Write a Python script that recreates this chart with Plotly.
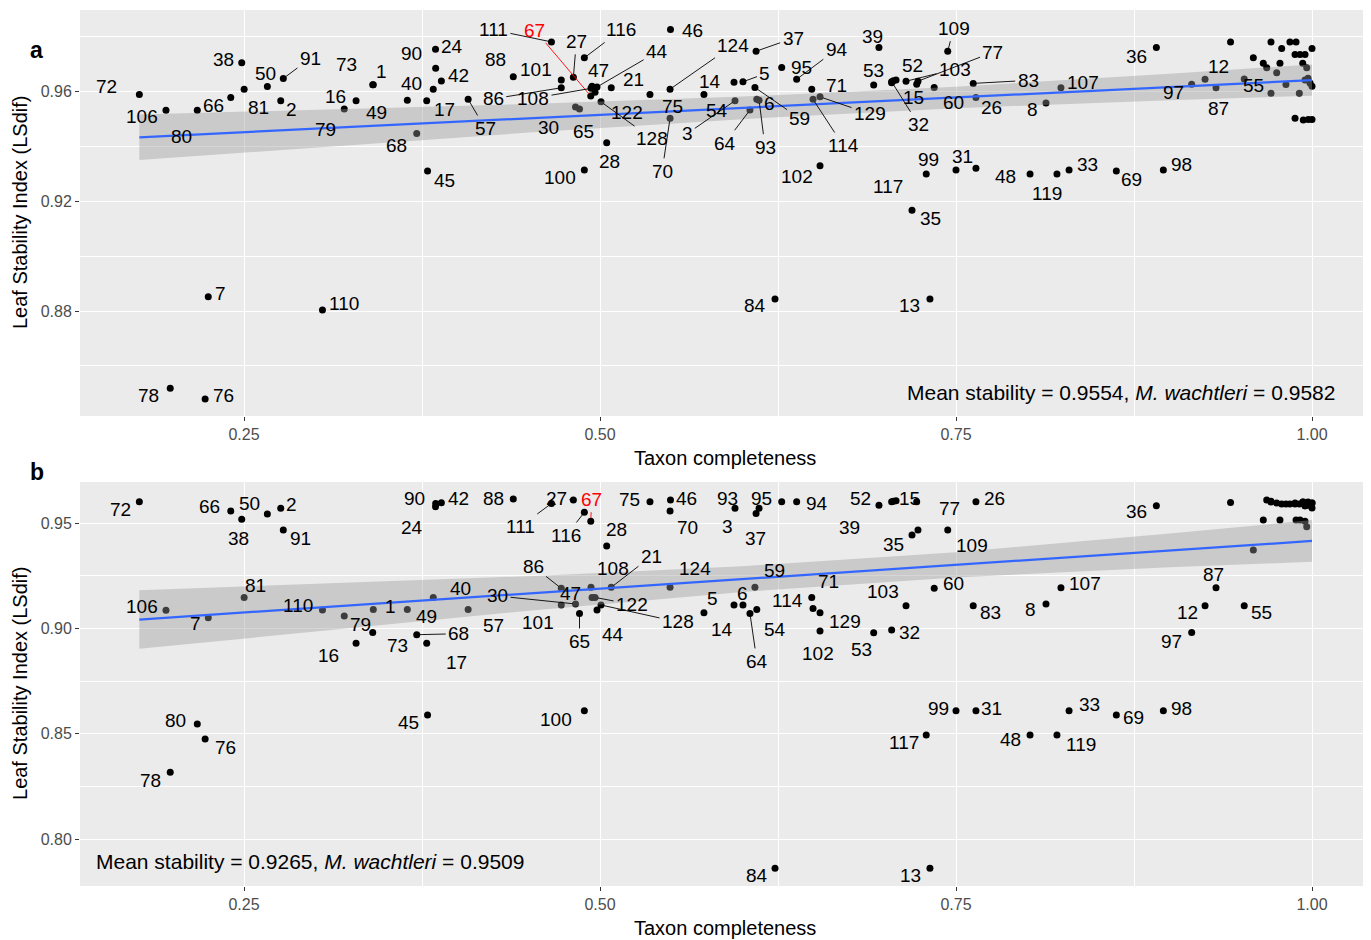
import plotly.graph_objects as go

# ---------------- data ----------------
taxa = ["72", "106", "80", "66", "38", "81", "50", "91", "2", "7", "110", "78", "76",
        "79", "16", "73", "1", "49", "68", "17", "45", "40", "90", "24", "42", "57",
        "88", "111", "101", "86", "27", "30", "65", "116", "100", "67", "108", "47",
        "122", "44", "128", "28", "21", "75", "46", "124", "70", "14", "54", "3", "5",
        "64", "59", "37", "6", "93", "84", "95", "94", "71", "114", "129", "102", "53",
        "39", "32", "52", "103", "35", "15", "77", "117", "13", "60", "109", "99", "83",
        "26", "31", "48", "8", "119", "107", "33", "69", "36", "98", "97", "12", "87", "55"]

completeness = [0.1765, 0.1952, 0.2172, 0.2407, 0.2484, 0.2501, 0.2664, 0.2776, 0.2758, 0.2249,
                0.3051, 0.1982, 0.2227, 0.3204, 0.3287, 0.3404, 0.3408, 0.3647, 0.3713, 0.3783,
                0.3789, 0.3829, 0.3846, 0.3845, 0.3886, 0.4074, 0.4391, 0.4659, 0.4728, 0.4728,
                0.4813, 0.4828, 0.4856, 0.4890, 0.4890, 0.4935, 0.4937, 0.4944, 0.4965, 0.4979,
                0.5007, 0.5047, 0.5079, 0.5351, 0.5495, 0.5492, 0.5492, 0.5730, 0.5941, 0.5948,
                0.6004, 0.6053, 0.6088, 0.6096, 0.6101, 0.6117, 0.6229, 0.6276, 0.6381, 0.6487,
                0.6496, 0.6545, 0.6545, 0.6922, 0.6959, 0.7048, 0.7079, 0.7149, 0.7191, 0.7224,
                0.7233, 0.7291, 0.7317, 0.7347, 0.7442, 0.7500, 0.7621, 0.7640, 0.7640, 0.8020,
                0.8132, 0.8209, 0.8237, 0.8294, 0.8626, 0.8907, 0.8956, 0.9155, 0.9249, 0.9326,
                0.9524]

lsi_a = [0.9588, 0.9530, 0.9530, 0.9577, 0.9703, 0.9607, 0.9617, 0.9646, 0.9565, 0.8852,
         0.8804, 0.8519, 0.8480, 0.9535, 0.9565, 0.9623, 0.9623, 0.9567, 0.9446, 0.9565,
         0.9309, 0.9607, 0.9683, 0.9752, 0.9637, 0.9570, 0.9652, 0.9779, 0.9640, 0.9612,
         0.9650, 0.9542, 0.9535, 0.9721, 0.9313, 0.9582, 0.9610, 0.9618, 0.9596, 0.9615,
         0.9561, 0.9412, 0.9612, 0.9588, 0.9824, 0.9607, 0.9501, 0.9588, 0.9632, 0.9565,
         0.9634, 0.9531, 0.9613, 0.9745, 0.9570, 0.9567, 0.8844, 0.9686, 0.9643, 0.9607,
         0.9570, 0.9579, 0.9328, 0.9622, 0.9759, 0.9634, 0.9640, 0.9636, 0.9167, 0.9625,
         0.9636, 0.9298, 0.8844, 0.9613, 0.9745, 0.9313, 0.9628, 0.9577, 0.9319, 0.9298,
         0.9557, 0.9298, 0.9612, 0.9313, 0.9309, 0.9759, 0.9313, 0.9625, 0.9643, 0.9612,
         0.9644]

lsi_b = [0.9601, 0.9086, 0.8546, 0.9557, 0.9518, 0.9147, 0.9543, 0.9467, 0.9570, 0.9051,
         0.9087, 0.8317, 0.8475, 0.9059, 0.8929, 0.8981, 0.9090, 0.9090, 0.8970, 0.8929,
         0.8589, 0.9147, 0.9593, 0.9577, 0.9596, 0.9090, 0.9614, 0.9593, 0.9111, 0.9190,
         0.9609, 0.9116, 0.9071, 0.9551, 0.8609, 0.9509, 0.9195, 0.9147, 0.9147, 0.9087,
         0.9111, 0.9391, 0.9195, 0.9601, 0.9609, 0.9195, 0.9557, 0.9074, 0.9111, 0.9570,
         0.9111, 0.9071, 0.9195, 0.9546, 0.9090, 0.9570, 0.7861, 0.9601, 0.9601, 0.9147,
         0.9095, 0.9074, 0.8987, 0.8979, 0.9585, 0.8992, 0.9606, 0.9108, 0.9443, 0.9601,
         0.9467, 0.8494, 0.7861, 0.9190, 0.9467, 0.8609, 0.9108, 0.9601, 0.8609, 0.8494,
         0.9116, 0.8494, 0.9193, 0.8609, 0.8589, 0.9582, 0.8609, 0.8981, 0.9108, 0.9193,
         0.9108]

# unlabelled taxa (mostly near-complete ones)
other_x = [0.7048, 0.7060, 0.9428, 0.9588, 0.9658, 0.9682, 0.9712, 0.9752, 0.9775, 0.9787,
           0.9817, 0.9712, 0.9845, 0.9888, 0.9881, 0.9916, 0.9951, 0.9911, 0.9935, 0.9963,
           1.0000, 0.9951, 0.9986, 1.0000, 0.9972, 0.9881, 0.9939, 0.9974, 1.0000]
other_a = [0.9630, 0.9638, 0.9779, 0.9721, 0.9701, 0.9685, 0.9779, 0.9667, 0.9701, 0.9755,
           0.9624, 0.9592, 0.9779, 0.9779, 0.9733, 0.9733, 0.9733, 0.9592, 0.9701, 0.9685,
           0.9755, 0.9640, 0.9629, 0.9618, 0.9647, 0.9501, 0.9495, 0.9497, 0.9497]
other_b = [0.9601, 0.9604, 0.9598, 0.9372, 0.9514, 0.9609, 0.9600, 0.9595, 0.9514, 0.9590,
           0.9590, 0.9604, 0.9590, 0.9514, 0.9595, 0.9514, 0.9509, 0.9590, 0.9600, 0.9482,
           0.9595, 0.9581, 0.9590, 0.9571, 0.9600, 0.9590, 0.9600, 0.9585, 0.9595]

# linear fit with 95% confidence band
fit_x = [0.1765, 0.30, 0.45, 0.60, 0.75, 0.90, 1.00]
fit_a = [0.9432, 0.9463, 0.9501, 0.9539, 0.9577, 0.9615, 0.9640]
fit_a_lo = [0.9349, 0.9395, 0.9449, 0.9498, 0.9538, 0.9567, 0.9583]
fit_a_hi = [0.9515, 0.9531, 0.9553, 0.9580, 0.9616, 0.9663, 0.9697]
fit_b = [0.9042, 0.9098, 0.9166, 0.9234, 0.9302, 0.9370, 0.9415]
fit_b_lo = [0.8903, 0.8986, 0.9084, 0.9173, 0.9242, 0.9290, 0.9316]
fit_b_hi = [0.9181, 0.9210, 0.9248, 0.9295, 0.9362, 0.9450, 0.9514]

mean_a, wacht_a = "0.9554", "0.9582"
mean_b, wacht_b = "0.9265", "0.9509"
highlight = "67"

x_ticks = [0.25, 0.50, 0.75, 1.00]
x_ticktext = ["0.25", "0.50", "0.75", "1.00"]
ya_ticks = [0.88, 0.92, 0.96]
ya_ticktext = ["0.88", "0.92", "0.96"]
yb_ticks = [0.80, 0.85, 0.90, 0.95]
yb_ticktext = ["0.80", "0.85", "0.90", "0.95"]

# ---------------- label placement (pixel offsets, style) ----------------
off_a = {"72": (-33, -8), "106": (-24, 6), "80": (-16, 26), "66": (-17, 8), "38": (-18, -3),
         "81": (14, 18), "50": (-2, -13), "91": (27, -20), "2": (11, 9), "7": (12, -3),
         "110": (22, -6), "78": (-22, 7), "76": (18, -3), "73": (-26, -20), "1": (8, -13),
         "16": (-21, -4), "79": (-19, 21), "49": (-31, 12), "40": (-22, -6), "90": (-24, -15),
         "24": (16, -3), "42": (17, -5), "17": (18, 9), "68": (-20, 12), "45": (17, 9),
         "57": (17, 29), "86": (-68, 11), "88": (-18, -17), "101": (-25, -11), "111": (-58, -12),
         "67": (-56, -66), "27": (3, -36), "116": (37, -28), "47": (6, -16), "44": (60, -35),
         "21": (22, -8), "108": (-58, 10), "122": (32, 20), "128": (51, 37), "30": (-27, 20),
         "65": (4, 23), "28": (3, 19), "100": (-24, 8), "46": (22, 1), "124": (63, -44),
         "75": (23, 12), "70": (-8, 53), "14": (6, -13), "5": (22, -8), "54": (-17, 28),
         "3": (-48, 33), "6": (13, 4), "59": (45, 31), "64": (-25, 33), "93": (6, 47),
         "37": (37, -13), "95": (20, 0), "94": (40, -30), "71": (25, -4), "129": (50, 17),
         "114": (30, 46), "102": (-23, 11), "84": (-20, 7), "39": (-6, -11), "53": (0, -15),
         "32": (27, 43), "52": (16, -15), "103": (49, -12), "77": (75, -29), "15": (-3, 13),
         "60": (19, 15), "109": (6, -23), "26": (16, 10), "83": (55, -3), "8": (-14, 7),
         "107": (22, -5), "36": (-20, 9), "97": (-18, 8), "12": (13, -13), "87": (2, 21),
         "55": (9, 6), "117": (-38, 12), "99": (-28, -10), "31": (-13, -12), "35": (18, 8),
         "13": (-20, 7), "48": (-25, 2), "119": (-10, 19), "33": (18, -5), "69": (15, 8),
         "98": (18, -5)}
lead_a = {"91", "57", "86", "111", "67", "27", "116", "44", "108", "128", "124", "70", "5",
          "3", "59", "64", "93", "37", "94", "129", "114", "32", "103", "77", "109", "83"}

off_b = {"72": (-19, 8), "66": (-21, -5), "50": (-18, -11), "38": (-3, 19), "2": (11, -4),
         "91": (17, 8), "90": (-21, -5), "24": (-24, 21), "42": (17, -4), "88": (-20, -1),
         "111": (-31, 23), "106": (-24, -4), "7": (-13, 6), "81": (11, -12), "110": (-24, -5),
         "79": (16, 9), "16": (-28, 12), "1": (17, -3), "73": (25, 13), "49": (19, 7),
         "68": (42, -1), "17": (30, 19), "40": (27, -9), "57": (25, 16), "30": (-78, -8),
         "86": (-28, -22), "47": (-22, -4), "101": (-23, 18), "108": (22, -19), "21": (40, -31),
         "122": (37, 7), "128": (77, 17), "44": (16, 24), "65": (0, 28), "67": (1, -22),
         "27": (-17, -2), "116": (-18, 23), "28": (10, -17), "75": (-20, -2), "46": (16, -2),
         "70": (17, 16), "93": (-32, -10), "3": (-8, 18), "95": (-20, -3), "37": (-1, 25),
         "94": (20, 2), "52": (-36, -2), "15": (-7, -3), "39": (-29, 22), "35": (-19, 9),
         "124": (25, -19), "59": (20, -17), "5": (-30, -6), "6": (-14, -16), "14": (18, 17),
         "54": (41, 25), "64": (7, 48), "71": (17, -16), "114": (-26, -8), "129": (25, 9),
         "102": (-2, 22), "53": (-12, 17), "32": (18, 2), "103": (-23, -14), "60": (19, -5),
         "77": (32, -22), "109": (24, 15), "26": (19, -3), "83": (17, 7), "8": (-16, 6),
         "107": (24, -4), "36": (-20, 6), "87": (-3, -13), "12": (-18, 7), "55": (17, 7),
         "97": (-20, 9), "80": (-22, -4), "76": (20, 9), "78": (-20, 8), "45": (-19, 8),
         "100": (-28, 9), "99": (-18, -2), "31": (16, -2), "117": (-22, 8), "48": (-20, 5),
         "119": (24, 10), "33": (20, -6), "69": (17, 3), "98": (18, -2), "84": (-18, 7),
         "13": (-19, 7)}
lead_b = {"111", "68", "30", "86", "21", "122", "128", "65", "67", "27", "116", "64"}

FONT = "Liberation Sans, Arial, sans-serif"
LABEL_SIZE = 19

fig = go.Figure()


def add_panel(ys, others, fit, lo, hi, xa, ya):
    fig.add_trace(go.Scatter(x=completeness + other_x, y=ys + others, mode="markers",
                             marker=dict(color="black", size=7), xaxis=xa, yaxis=ya,
                             showlegend=False, hoverinfo="skip"))
    fig.add_trace(go.Scatter(x=fit_x + fit_x[::-1], y=hi + lo[::-1], fill="toself",
                             fillcolor="rgba(153,153,153,0.4)", line=dict(width=0),
                             mode="lines", xaxis=xa, yaxis=ya, showlegend=False,
                             hoverinfo="skip"))
    fig.add_trace(go.Scatter(x=[fit_x[0], fit_x[-1]], y=[fit[0], fit[-1]], mode="lines",
                             line=dict(color="#3366FF", width=2.2), xaxis=xa, yaxis=ya,
                             showlegend=False, hoverinfo="skip"))


add_panel(lsi_a, other_a, fit_a, fit_a_lo, fit_a_hi, "x", "y")
add_panel(lsi_b, other_b, fit_b, fit_b_lo, fit_b_hi, "x2", "y2")

annotations = []


def add_labels(ys, offs, leads, xr, yr):
    for lab, xv, yv in zip(taxa, completeness, ys):
        dx, dy = offs[lab]
        col = "red" if lab == highlight else "black"
        base = dict(x=xv, y=yv, xref=xr, yref=yr, text=lab,
                    font=dict(family=FONT, size=LABEL_SIZE, color=col))
        if lab in leads:
            base.update(showarrow=True, ax=dx, ay=dy, arrowhead=0, arrowwidth=0.9,
                        arrowcolor=col, standoff=3, startstandoff=1)
        else:
            base.update(showarrow=False, xshift=dx, yshift=-dy,
                        xanchor="center", yanchor="middle")
        annotations.append(base)


add_labels(lsi_a, off_a, lead_a, "x", "y")
add_labels(lsi_b, off_b, lead_b, "x2", "y2")

# summary texts
annotations.append(dict(xref="x domain", yref="y domain", x=1, y=0, xanchor="right",
                        yanchor="middle", xshift=-33, yshift=24, showarrow=False,
                        text=f"Mean stability = {mean_a}, <i>M. wachtleri</i> = {wacht_a}",
                        font=dict(family=FONT, size=21, color="black")))
annotations.append(dict(xref="x2 domain", yref="y2 domain", x=0, y=0, xanchor="left",
                        yanchor="middle", xshift=14, yshift=25, showarrow=False,
                        text=f"Mean stability = {mean_b}, <i>M. wachtleri</i> = {wacht_b}",
                        font=dict(family=FONT, size=21, color="black")))

# axis titles and panel letters
for xr, yr in (("x domain", "y domain"), ("x2 domain", "y2 domain")):
    annotations.append(dict(xref=xr, yref=yr, x=0.5, y=0, yshift=-42, showarrow=False,
                            yanchor="middle", text="Taxon completeness",
                            font=dict(family=FONT, size=20, color="black")))
    annotations.append(dict(xref="paper", yref=yr, x=0, y=0.5, xshift=-60, showarrow=False,
                            textangle=-90, xanchor="center", yanchor="middle",
                            text="Leaf Stability Index (LSdif)",
                            font=dict(family=FONT, size=20, color="black")))
annotations.append(dict(xref="paper", yref="paper", x=0, y=0.9715, xshift=-52,
                        showarrow=False, text="<b>a</b>",
                        font=dict(family=FONT, size=23, color="black")))
annotations.append(dict(xref="paper", yref="paper", x=0, y=0.4726, xshift=-52,
                        showarrow=False, text="<b>b</b>",
                        font=dict(family=FONT, size=23, color="black")))

axis_common = dict(showgrid=True, gridcolor="white", gridwidth=1.3, zeroline=False,
                   showline=False, ticks="outside", ticklen=4, tickwidth=1,
                   tickcolor="#333333", tickfont=dict(family=FONT, size=16, color="#4D4D4D"))

# the page body adds an 8 px margin, so the figure is 8 px smaller and margins shifted
fig.update_layout(
    width=1363, height=932, autosize=False,
    margin=dict(l=72, r=1, t=2, b=54),
    paper_bgcolor="white", plot_bgcolor="#EBEBEB",
    font=dict(family=FONT),
    xaxis=dict(domain=[0, 1], anchor="y", range=[0.13483, 1.04073], tickvals=x_ticks,
               ticktext=x_ticktext,
               minor=dict(tickvals=[0.375, 0.625, 0.875], showgrid=True,
                          gridcolor="white", gridwidth=0.6, ticks=""), **axis_common),
    yaxis=dict(domain=[0.5365, 1], anchor="x", range=[0.8418, 0.9895], tickvals=ya_ticks,
               ticktext=ya_ticktext,
               minor=dict(tickvals=[0.86, 0.90, 0.94, 0.98], showgrid=True,
                          gridcolor="white", gridwidth=0.6, ticks=""), **axis_common),
    xaxis2=dict(domain=[0, 1], anchor="y2", range=[0.13483, 1.04073], tickvals=x_ticks,
                ticktext=x_ticktext,
                minor=dict(tickvals=[0.375, 0.625, 0.875], showgrid=True,
                           gridcolor="white", gridwidth=0.6, ticks=""), **axis_common),
    yaxis2=dict(domain=[0, 0.4612], anchor="x2", range=[0.7777, 0.9695], tickvals=yb_ticks,
                ticktext=yb_ticktext,
                minor=dict(tickvals=[0.825, 0.875, 0.925], showgrid=True,
                           gridcolor="white", gridwidth=0.6, ticks=""), **axis_common),
    annotations=annotations,
)

fig.write_html("out.html")
